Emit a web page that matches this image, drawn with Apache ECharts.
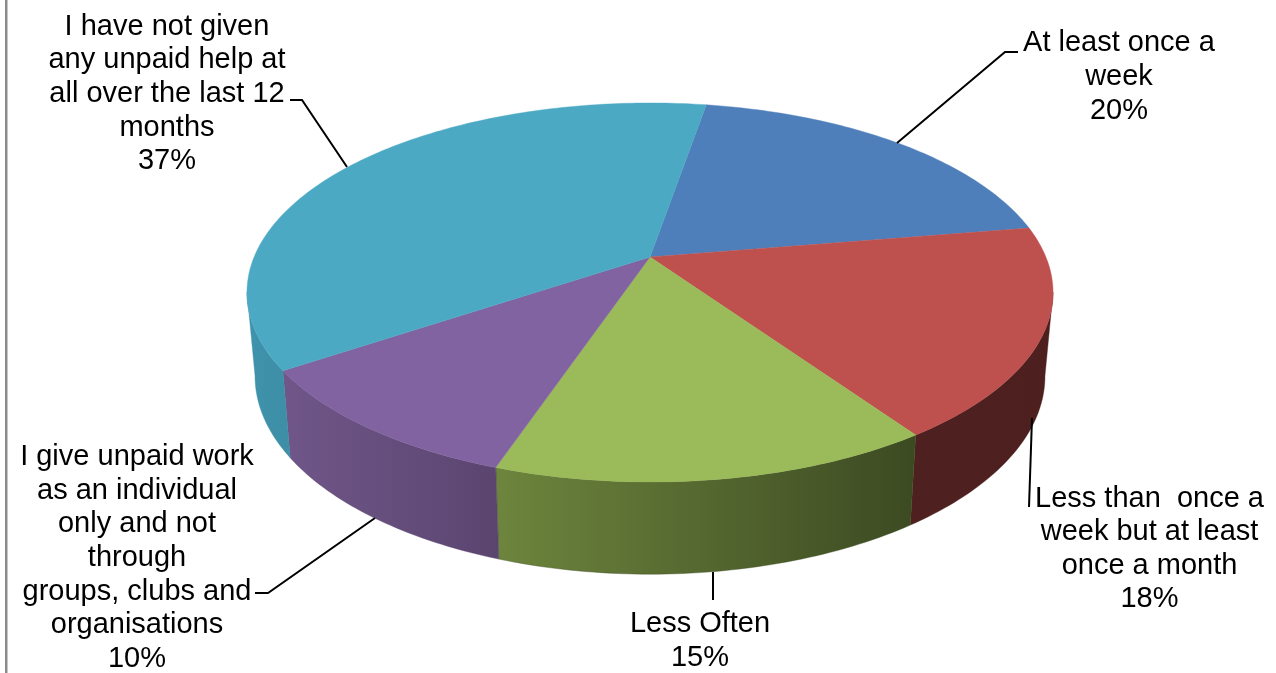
<!DOCTYPE html>
<html>
<head>
<meta charset="utf-8">
<style>html,body{margin:0;padding:0;background:#fff;overflow:hidden}#c{width:1276px;height:673px}</style>
<script src="https://cdn.jsdelivr.net/npm/echarts@6/dist/echarts.min.js"></script>
</head>
<body>
<div id="c"></div>
<script>
// Data
const categories = [
  'At least once a\nweek',
  'Less than  once a\nweek but at least\nonce a month',
  'Less Often',
  'I give unpaid work\nas an individual\nonly and not\nthrough\ngroups, clubs and\norganisations',
  'I have not given\nany unpaid help at\nall over the last 12\nmonths'
];
const shares = [19.7, 18, 14.8, 10.4, 37.1];

// Styles
const topColors = ['#4F7FBA', '#BE504E', '#9BBA59', '#8063A0', '#4BA9C4'];
const wallColors = [
  ['#3a5d88', '#3a5d88'],
  ['#4f2020', '#4d1f1f'],
  ['#6d853d', '#3c4a22'],
  ['#705689', '#5a456f'],
  ['#3f93ac', '#3d8ea6']
];

// Layout: perspective disc, label blocks and leader lines
const cx = 650, cy = 257, bx = 395.9, ay = 182.9, persp = 0.1873;
const baseScaleX = 0.98, baseScaleY = 1.045, baseDrop = 82;
const startAngle = 9.7, wallFrom = 100.7, wallTo = 259.3;
const labelLayout = [
  {x: 1119, y: 77,  line: [[897, 143], [1005, 52], [1018, 52]]},
  {x: 1149.5, y: 549, line: [[1032, 418], [1029, 507]]},
  {x: 700,  y: 641, line: [[713, 572], [713, 600]]},
  {x: 137,  y: 558, line: [[375, 518], [268, 593], [255, 593]]},
  {x: 167,  y: 94,  line: [[347, 167], [302, 100], [290, 100]]}
];

const total = shares.reduce((a, b) => a + b, 0);
const spans = [];
shares.reduce((acc, v) => {
  const next = acc + v / total * 360;
  spans.push([acc, next]);
  return next;
}, startAngle);

function project(deg, base) {
  const r = deg * Math.PI / 180;
  const X = Math.sin(r), Y = -Math.cos(r);
  const w = 1 - persp * Y;
  const u = bx * X / w, v = ay * Y / w;
  return base
    ? [cx + baseScaleX * u, cy + baseScaleY * v + baseDrop]
    : [cx + u, cy + v];
}
function arc(a, b, base) {
  const pts = [];
  const n = Math.max(2, Math.ceil(Math.abs(b - a)));
  for (let i = 0; i <= n; i++) pts.push(project(a + (b - a) * i / n, base));
  return pts;
}

function renderWall(params) {
  const i = params.dataIndex;
  const a = Math.max(spans[i][0], wallFrom), b = Math.min(spans[i][1], wallTo);
  if (b <= a) return {type: 'group', children: []};
  const points = arc(a, b, false).concat(arc(a, b, true).reverse());
  return {
    type: 'polygon',
    shape: {points: points},
    style: {
      fill: {type: 'linear', x: 0, y: 0, x2: 1, y2: 0, colorStops: [
        {offset: 0, color: wallColors[i][0]},
        {offset: 1, color: wallColors[i][1]}
      ]},
      stroke: wallColors[i][1], lineWidth: 0.4
    }
  };
}
function renderTop(params) {
  const i = params.dataIndex;
  return {
    type: 'polygon',
    shape: {points: [[cx, cy]].concat(arc(spans[i][0], spans[i][1], false))},
    style: {fill: topColors[i], stroke: topColors[i], lineWidth: 0.4}
  };
}
function renderLabel(params, api) {
  const i = params.dataIndex, l = labelLayout[i];
  return {
    type: 'group',
    children: [
      {type: 'polyline', shape: {points: l.line},
       style: {fill: 'none', stroke: '#000', lineWidth: 2}},
      {type: 'text', x: l.x, y: l.y,
       style: {
         text: categories[i] + '\n' + Math.round(api.value(0) / total * 100) + '%',
         textAlign: 'center', textVerticalAlign: 'middle',
         fontFamily: '"Liberation Sans", Arial, sans-serif', fontSize: 29,
         lineHeight: 33.6, fill: '#000'
       }}
    ]
  };
}

const seriesData = shares.map(v => [v]);
const chart = echarts.init(document.getElementById('c'), null, {renderer: 'canvas'});
chart.setOption({
  animation: false,
  backgroundColor: '#fff',
  tooltip: {show: false},
  graphic: [{
    type: 'rect', z: 0,
    shape: {x: 5, y: 0, width: 2.5, height: 673},
    style: {fill: '#8c8c8c'}
  }],
  series: [
    {type: 'custom', name: 'walls', coordinateSystem: 'none', clip: false, silent: true, z: 1,
     renderItem: renderWall, data: seriesData},
    {type: 'custom', name: 'tops', coordinateSystem: 'none', clip: false, silent: true, z: 2,
     renderItem: renderTop, data: seriesData},
    {type: 'custom', name: 'labels', coordinateSystem: 'none', clip: false, silent: true, z: 3,
     renderItem: renderLabel, data: seriesData}
  ]
});
</script>
</body>
</html>
